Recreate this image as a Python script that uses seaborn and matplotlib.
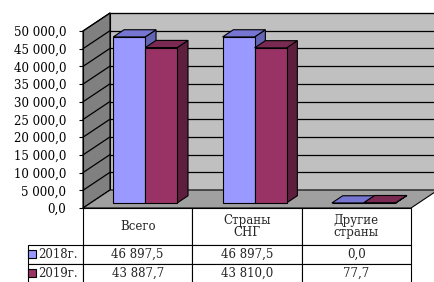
import numpy as np
import pandas as pd
import matplotlib
matplotlib.use("Agg")
import matplotlib.pyplot as plt
import seaborn as sns
from matplotlib.patches import Polygon, Rectangle

# ---- data ----
categories = ["Всего", "Страны\nСНГ", "Другие\nстраны"]
years = ["2018г.", "2019г."]
values_2018 = [46897.5, 46897.5, 0.0]
values_2019 = [43887.7, 43810.0, 77.7]
table_2018 = ["46 897,5", "46 897,5", "0,0"]
table_2019 = ["43 887,7", "43 810,0", "77,7"]
y_ticks = [0, 5000, 10000, 15000, 20000, 25000, 30000, 35000, 40000, 45000, 50000]
y_tick_labels = ["0,0", "5 000,0", "10 000,0", "15 000,0", "20 000,0", "25 000,0",
                 "30 000,0", "35 000,0", "40 000,0", "45 000,0", "50 000,0"]

front_colors = ["#9999FF", "#993366"]
top_colors = ["#7676D2", "#7A2A52"]
side_colors = ["#6464B4", "#5E1F3F"]

sns.set_style("white")
plt.rcParams["font.family"] = ["DejaVu Serif"]

W, H = 434, 282
fig = plt.figure(figsize=(W / 100, H / 100), dpi=100)
L, R, B, T = 83, 411, 208, 31
AW, AH = R - L, B - T
ax = fig.add_axes([L / W, 1 - B / H, AW / W, AH / H])

df = pd.DataFrame({
    "cat": categories * 2,
    "year": [years[0]] * 3 + [years[1]] * 3,
    "val": values_2018 + values_2019,
})
sns.barplot(data=df, x="cat", y="val", hue="year", palette=front_colors,
            width=0.585, saturation=1, edgecolor="black", linewidth=0.8,
            errorbar=None, legend=False, ax=ax)

ymax = 50000
ax.set_xlim(-0.5, 2.5)
ax.set_ylim(0, ymax)

# pixel -> data conversions
px_x = AW / 3.0
px_y = AH / ymax
def dxp(p):
    return p / px_x
def dyp(p):
    return p / px_y

DX, DY = dxp(27), dyp(18)          # full depth of the chart box
fx, fy = 0.28 * DX, 0.28 * DY       # bar front plane
bx, by = 0.68 * DX, 0.68 * DY       # bar back plane

# walls and floor
x0w, x1w = -0.5, 2.5
ax.add_patch(Polygon([(x0w, 0), (x0w, ymax), (x0w + DX, ymax + DY), (x0w + DX, DY)],
                     closed=True, fc="#808080", ec="black", lw=0.8, zorder=0.5, clip_on=False))
ax.add_patch(Polygon([(x0w + DX, DY), (x0w + DX, ymax + DY), (x1w + DX, ymax + DY), (x1w + DX, DY)],
                     closed=True, fc="#C0C0C0", ec="black", lw=0.8, zorder=0.5, clip_on=False))
ax.add_patch(Polygon([(x0w, 0), (x1w, 0), (x1w + DX, DY), (x0w + DX, DY)],
                     closed=True, fc="#A0A0A0", ec="black", lw=0.8, zorder=0.6, clip_on=False))
for t in y_ticks[1:]:
    ax.plot([x0w + DX, x1w + DX], [t + DY, t + DY], color="black", lw=0.9, zorder=0.7, clip_on=False)
    ax.plot([x0w, x0w + DX], [t, t + DY], color="black", lw=0.9, zorder=0.7, clip_on=False)
ax.plot([x0w, x0w + DX], [0, DY], color="black", lw=0.6, ls=(0, (2, 2)), zorder=0.7, clip_on=False)

# 3D bars
n = len(categories)
for i, p in enumerate(list(ax.patches)):
    if not isinstance(p, Rectangle):
        continue
    hue_idx = i // n
    x0 = p.get_x()
    w = p.get_width()
    h = p.get_height()
    z = 2 + hue_idx
    p.set_x(x0 + fx)
    p.set_y(fy)
    p.set_zorder(z + 0.2)
    p.set_clip_on(False)
    ax.add_patch(Polygon([(x0 + w + fx, fy), (x0 + w + bx, by), (x0 + w + bx, h + by), (x0 + w + fx, h + fy)],
                         closed=True, fc=side_colors[hue_idx], ec="black", lw=0.8, zorder=z, clip_on=False))
    ax.add_patch(Polygon([(x0 + fx, h + fy), (x0 + w + fx, h + fy), (x0 + w + bx, h + by), (x0 + bx, h + by)],
                         closed=True, fc=top_colors[hue_idx], ec="black", lw=0.8, zorder=z + 0.1, clip_on=False))

# axes styling
ax.set_xlabel("")
ax.set_ylabel("")
ax.set_yticks(y_ticks)
ax.set_yticklabels(y_tick_labels)
ax.tick_params(axis="y", direction="out", length=3, width=0.8, pad=9, labelsize=8.5, colors="black", left=True)
ax.tick_params(axis="x", bottom=False, labelbottom=False)
for s in ["top", "right", "bottom"]:
    ax.spines[s].set_visible(False)
ax.spines["left"].set_color("black")
ax.spines["left"].set_linewidth(0.8)
ax.spines["left"].set_zorder(1)
ax.set_facecolor("none")
ax.grid(False)

# data table below the axes; the main grid spans the axes width
tab = ax.table(cellText=[table_2018, table_2019], rowLabels=years, colLabels=categories,
               cellLoc="center", rowLoc="left", colLoc="center", loc="bottom")
tab.auto_set_font_size(False)
tab.set_fontsize(8.5)
for (r, c), cell in tab.get_celld().items():
    cell.set_width(57 / AW if c == -1 else 1 / 3)
    cell.set_height((37 if r == 0 else 18.75) / AH)
    cell.set_edgecolor("black")
    cell.set_linewidth(0.8)
    cell.set_facecolor("white")
    cell.get_text().set_linespacing(0.95)
    if c == -1:
        cell.PAD = 0.2

# legend keys inside row-label cells
for k, yc in enumerate([254, 272.5]):
    ax.add_patch(Rectangle(((28 - L) / AW, (B - yc - 4) / AH), 8 / AW, 8 / AH,
                           transform=ax.transAxes, fc=front_colors[k], ec="black", lw=0.8,
                           zorder=10, clip_on=False))

fig.savefig("out.png", dpi=100, facecolor="white")
